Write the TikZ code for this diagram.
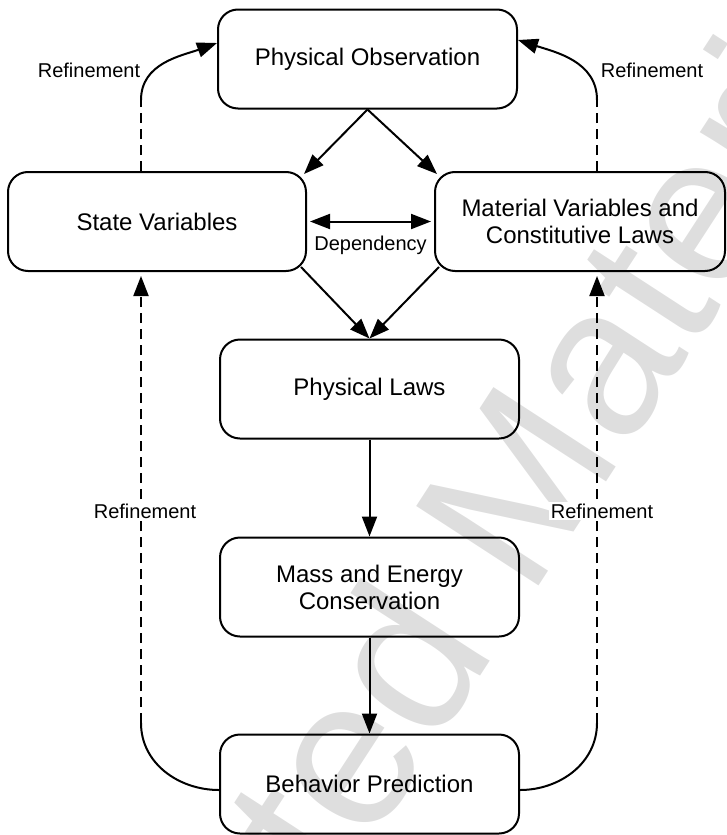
\documentclass[tikz,border=0pt]{standalone}
\usepackage{fontspec}
\setmainfont{Liberation Sans}
\usetikzlibrary{arrows.meta,calc}
\begin{document}
\begin{tikzpicture}[x=1pt,y=-1pt,line width=2pt,
    >={Triangle[length=20pt,width=15pt]},
    box/.style={draw,rounded corners=20pt,minimum height=99pt,align=center,
        font=\fontsize{24}{27}\selectfont},
    lab/.style={font=\fontsize{20}{24}\selectfont,inner sep=2pt},
    dashline/.style={dash pattern=on 10pt off 6pt}]
    \useasboundingbox (0,0) rectangle (727,835);
    %% watermark
    \begin{scope}
        \clip (0,0) rectangle (727,835);
        \node[text=black!13,font=\fontsize{212}{212}\selectfont,rotate=57] (mark) at (362,758) {Copyrighted Material};
    \end{scope}
    %% boxes
    \foreach \n/\x/\y/\w/\t in {obs/367.5/59/299/{Physical Observation},
        state/157/221.5/298/{State Variables},
        mat/580/221.5/290/{Material Variables and\\Constitutive Laws},
        laws/369.5/389/299/{Physical Laws},
        mass/369.5/587/299/{Mass and Energy\\Conservation},
        pred/369.5/784/299/{Behavior Prediction}}
        \node[box,minimum width=\w pt] (\n) at (\x,\y) {\t};
    %% main flow
    \draw[->] (obs.south) -- ($(state.north east)+(-3,3)$);
    \draw[->] (obs.south) -- ($(mat.north west)+(3,3)$);
    \draw[<->] ($(state.east)+(3,0)$) -- node[lab,midway,yshift=-24pt] (dep) {Dependency} ($(mat.west)+(-3,0)$);
    \draw[->] ($(state.south east)+(-6,-5)$) -- (laws.north);
    \draw[->] ($(mat.south west)+(5,-5)$) -- (laws.north);
    \draw[->] (laws) -- (mass);
    \draw[->] (mass) -- (pred);
    %% refinement loops
    \coordinate (tl) at (141,100);
    \coordinate (bl) at (141,723);
    \coordinate (tr) at (597,100);
    \coordinate (br) at (597,723);
    \draw ($(pred.west)+(0,6)$) to[out=180,in=-90] (bl);
    \draw[dashline,->,shorten >=4pt] (bl) -- node[lab,pos=0.47,fill=white,xshift=4pt] (refbl) {Refinement} ($(state.south)+(-16,0)$);
    \draw[dashline] ($(state.north)+(-16,0)$) -- (tl);
    \draw[->] (tl) to[out=90,in=200] ($(obs.west)+(0,-16)$);
    \node[lab] (reftl) at (89,70) {Refinement};
    \draw ($(pred.east)+(0,6)$) to[out=0,in=-90] (br);
    \draw[dashline,->,shorten >=4pt] (br) -- node[lab,pos=0.47,fill=white,xshift=5pt] (refbr) {Refinement} ($(mat.south)+(17,0)$);
    \draw[dashline] ($(mat.north)+(17,0)$) -- (tr);
    \draw[->] (tr) to[out=90,in=-18] ($(obs.east)+(0,-19)$);
    \node[lab] (reftr) at (652,70) {Refinement};
\end{tikzpicture}
\end{document}
